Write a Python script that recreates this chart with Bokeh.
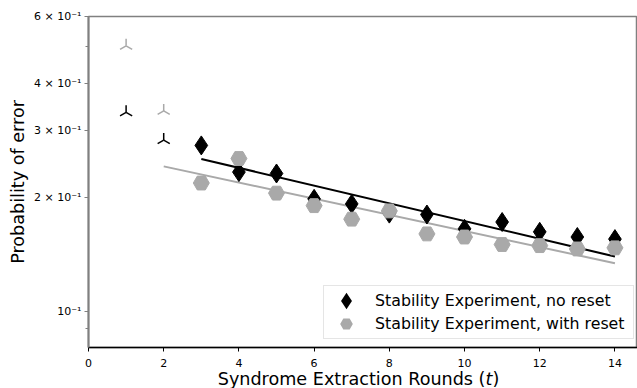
import math
from bokeh.plotting import figure
from bokeh.layouts import column
from bokeh.models import Range1d, FixedTicker, Legend, LegendItem, Div
from bokeh.embed import file_html
from bokeh.resources import INLINE

# ---------------- data ----------------
rounds = [3, 4, 5, 6, 7, 8, 9, 10, 11, 12, 13, 14]
no_reset = [0.274, 0.233, 0.231, 0.198, 0.192, 0.181, 0.180, 0.165, 0.172, 0.162, 0.157, 0.155]
with_reset = [0.218, 0.253, 0.205, 0.190, 0.175, 0.184, 0.160, 0.157, 0.150, 0.149, 0.146, 0.147]

early_rounds = [1, 2]
early_no_reset = [0.335, 0.283]
early_with_reset = [0.502, 0.338]

fit_no_reset_x = [3, 14]
fit_no_reset_y = [0.2523, 0.1394]
fit_with_reset_x = [2, 14]
fit_with_reset_y = [0.2412, 0.1339]

x_ticks = [0, 2, 4, 6, 8, 10, 12, 14]
y_ticks = [0.1, 0.2, 0.3, 0.4, 0.6]
y_tick_labels = ["10⁻¹", "2 × 10⁻¹", "3 × 10⁻¹", "4 × 10⁻¹", "6 × 10⁻¹"]
y_minor_ticks = [0.08, 0.09, 0.5]

legend_labels = ["Stability Experiment, no reset", "Stability Experiment, with reset"]
x_label_html = "Syndrome Extraction Rounds (<i>t</i>)"
y_label = "Probability of error"

# ---------------- styling ----------------
FONT = "DejaVu Sans"
GREY = "#a9a9a9"
SPINE = "#808080"
X_END = 14.6

p = figure(
    width=637, height=372,
    y_axis_type="log",
    x_range=Range1d(0, X_END),
    y_range=Range1d(0.0802, 0.6),
    output_backend="svg",
    toolbar_location=None,
    min_border_left=88, min_border_right=0,
    min_border_top=16, min_border_bottom=25,
)
p.background_fill_color = "white"
p.border_fill_color = "white"
p.grid.visible = False
p.outline_line_color = SPINE
p.outline_line_width = 1.5

# x axis
xa = p.xaxis[0]
xa.ticker = FixedTicker(ticks=x_ticks, minor_ticks=[])
xa.axis_line_color = "black"
xa.axis_line_width = 1.3
xa.major_tick_out = 4
xa.major_tick_in = 0
xa.major_tick_line_color = "black"
xa.minor_tick_line_color = None
xa.major_label_text_font = FONT
xa.major_label_text_font_size = "11px"
xa.major_label_text_color = "black"
xa.major_label_standoff = 7

# y axis
ya = p.yaxis[0]
ya.ticker = FixedTicker(ticks=y_ticks, minor_ticks=y_minor_ticks)
ya.major_label_overrides = {t: l for t, l in zip(y_ticks, y_tick_labels)}
ya.axis_line_color = SPINE
ya.axis_line_width = 2
ya.major_tick_out = 4
ya.major_tick_in = 0
ya.minor_tick_out = 3
ya.minor_tick_in = 0
ya.major_tick_line_color = SPINE
ya.minor_tick_line_color = SPINE
ya.major_label_text_font = FONT
ya.major_label_text_font_size = "11px"
ya.major_label_text_color = "black"
ya.major_label_standoff = 3
ya.axis_label = y_label
ya.axis_label_text_font = FONT
ya.axis_label_text_font_size = "17.6px"
ya.axis_label_text_font_style = "normal"
ya.axis_label_text_color = "black"
ya.axis_label_standoff = 3

# fit lines
p.line(fit_with_reset_x, fit_with_reset_y, line_color=GREY, line_width=2)
p.line(fit_no_reset_x, fit_no_reset_y, line_color="black", line_width=2)

# early-round tri markers (drawn as three short rays)
for ang in (90, 210, 330):
    p.ray(x=early_rounds, y=early_no_reset, length=7, length_units="screen",
          angle=ang, angle_units="deg", line_color="black", line_width=1.5)
    p.ray(x=early_rounds, y=early_with_reset, length=7, length_units="screen",
          angle=ang, angle_units="deg", line_color=GREY, line_width=1.5)

# main series
p.scatter(rounds, no_reset, marker="diamond", size=19,
          fill_color="black", line_color="black", line_width=1)
p.scatter(rounds, with_reset, marker="hex", size=16,
          fill_color=GREY, line_color=GREY, line_width=1)

# hidden twins of the series, used only to draw larger legend keys
leg_dia = p.scatter(rounds, no_reset, marker="diamond", size=19,
                    fill_color="black", line_color="black",
                    line_width=4, line_join="miter", visible=False)
leg_hex = p.scatter(rounds, with_reset, marker="hex", size=16,
                    fill_color=GREY, line_color=GREY,
                    line_width=3, line_join="miter", visible=False)

legend = Legend(
    items=[LegendItem(label=legend_labels[0], renderers=[leg_dia]),
           LegendItem(label=legend_labels[1], renderers=[leg_hex])],
    location=(235, 8),
    margin=0,
    padding=3,
    spacing=0,
    glyph_width=38, glyph_height=23,
    label_height=23,
    label_width=255,
    label_standoff=10,
    label_text_font=FONT,
    label_text_font_size="15.8px",
    label_text_color="black",
    border_line_color="#cccccc",
    border_line_width=1,
    background_fill_color="white",
    background_fill_alpha=0.8,
)
p.add_layout(legend)

xlabel = Div(
    text=x_label_html, width=549, height=16, margin=(0, 0, 0, 84),
    styles={"font-family": FONT, "font-size": "17.6px", "line-height": "14px",
            "text-align": "center", "color": "black", "white-space": "nowrap"},
)

layout = column(p, xlabel, spacing=0)
open("out.html", "w").write(file_html(layout, INLINE))
